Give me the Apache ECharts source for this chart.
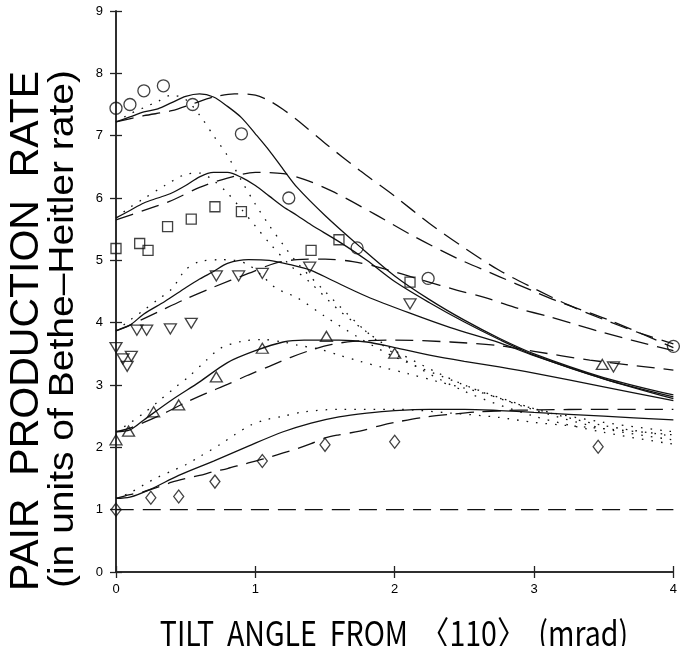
<!DOCTYPE html>
<html>
<head>
<meta charset="utf-8">
<script src="https://cdn.jsdelivr.net/npm/echarts@6/dist/echarts.min.js"></script>
<style>
  html, body { margin: 0; padding: 0; background: #fff; }
  #chart { width: 680px; height: 646px; }
</style>
</head>
<body>
<div id="chart"></div>
<script>
// axis ticks
var xTicks = [0, 1, 2, 3, 4];
var yTicks = [0, 1, 2, 3, 4, 5, 6, 7, 8, 9];

// measured points (x in mrad, y in Bethe-Heitler units)
var circlePts = [[0, 7.44], [0.1, 7.5], [0.2, 7.72], [0.34, 7.8], [0.55, 7.5], [0.9, 7.03], [1.24, 6.0], [1.73, 5.2], [2.24, 4.71], [4.0, 3.62]];
var squarePts = [[0, 5.19], [0.17, 5.27], [0.23, 5.16], [0.37, 5.54], [0.54, 5.66], [0.71, 5.86], [0.9, 5.78], [1.4, 5.16], [1.6, 5.33], [2.11, 4.65]];
var downPts = [[0, 3.6], [0.05, 3.42], [0.11, 3.46], [0.08, 3.3], [0.15, 3.88], [0.22, 3.88], [0.39, 3.9], [0.54, 3.99], [0.72, 4.75], [0.88, 4.75], [1.05, 4.79], [1.39, 4.89], [2.11, 4.3], [3.57, 3.29]];
var upPts = [[0, 2.12], [0.09, 2.26], [0.27, 2.57], [0.45, 2.68], [0.72, 3.13], [1.05, 3.59], [1.51, 3.78], [2.0, 3.51], [3.49, 3.33]];
var diamondPts = [[0, 1.0], [0.25, 1.19], [0.45, 1.21], [0.71, 1.45], [1.05, 1.78], [1.5, 2.04], [2.0, 2.09], [3.46, 2.01]];

// calculations: solid, dashed, dotted for each orientation group
var circleSolid = [[0, 7.22], [0.1, 7.3], [0.2, 7.38], [0.3, 7.43], [0.4, 7.53], [0.5, 7.63], [0.6, 7.67], [0.7, 7.62], [0.8, 7.47], [0.9, 7.29], [1.0, 7.03], [1.1, 6.76], [1.2, 6.46], [1.3, 6.17], [1.5, 5.72], [1.75, 5.22], [2.0, 4.75], [2.25, 4.37], [2.5, 4.04], [2.75, 3.75], [3.0, 3.5], [3.5, 3.12], [4.0, 2.84]];
var circleDashed = [[0, 7.22], [0.2, 7.32], [0.4, 7.4], [0.55, 7.51], [0.7, 7.62], [0.85, 7.67], [1.0, 7.65], [1.1, 7.56], [1.2, 7.42], [1.3, 7.25], [1.5, 6.88], [1.75, 6.44], [2.0, 6.03], [2.25, 5.59], [2.5, 5.2], [2.75, 4.84], [3.0, 4.55], [3.25, 4.28], [3.5, 4.05], [3.75, 3.84], [4.0, 3.66]];
var circleDotted = [[0, 7.22], [0.1, 7.35], [0.2, 7.45], [0.3, 7.55], [0.4, 7.65], [0.5, 7.58], [0.6, 7.33], [0.7, 7.0], [0.8, 6.68], [0.9, 6.28], [1.0, 5.9], [1.1, 5.56], [1.2, 5.25], [1.3, 4.96], [1.5, 4.5], [1.75, 3.95], [2.0, 3.5], [2.5, 2.9], [3.0, 2.5], [3.5, 2.24], [4.0, 2.05]];

var squareSolid = [[0, 5.68], [0.1, 5.8], [0.2, 5.92], [0.3, 6.0], [0.4, 6.08], [0.5, 6.2], [0.6, 6.34], [0.7, 6.41], [0.8, 6.41], [0.9, 6.33], [1.0, 6.2], [1.1, 6.03], [1.2, 5.86], [1.3, 5.72], [1.4, 5.57], [1.6, 5.3], [1.8, 5.0], [2.0, 4.66], [2.25, 4.32], [2.5, 4.01], [2.75, 3.73], [3.0, 3.48], [3.5, 3.1], [4.0, 2.81]];
var squareDashed = [[0, 5.65], [0.2, 5.8], [0.4, 5.96], [0.6, 6.17], [0.8, 6.32], [1.0, 6.41], [1.2, 6.39], [1.35, 6.3], [1.55, 6.11], [1.85, 5.75], [2.15, 5.37], [2.45, 5.03], [2.75, 4.74], [3.0, 4.5], [3.15, 4.36], [3.55, 4.03], [4.0, 3.6]];
var squareDotted = [[0, 5.68], [0.1, 5.85], [0.2, 5.99], [0.35, 6.2], [0.5, 6.38], [0.6, 6.4], [0.7, 6.28], [0.8, 6.08], [0.9, 5.82], [1.0, 5.55], [1.1, 5.28], [1.25, 4.92], [1.4, 4.63], [1.6, 4.2], [1.8, 3.85], [2.0, 3.55], [2.5, 3.0], [3.0, 2.6], [3.5, 2.3], [4.0, 2.12]];

var downSolid = [[0, 3.87], [0.1, 3.96], [0.2, 4.14], [0.35, 4.34], [0.5, 4.56], [0.6, 4.7], [0.7, 4.82], [0.8, 4.95], [0.95, 5.01], [1.1, 5.0], [1.25, 4.93], [1.4, 4.84], [1.55, 4.68], [1.8, 4.42], [2.1, 4.16], [2.4, 3.92], [2.75, 3.68], [3.0, 3.47], [3.5, 3.1], [4.0, 2.78]];
var downDashed = [[0, 3.87], [0.1, 3.96], [0.3, 4.17], [0.5, 4.38], [0.7, 4.57], [0.95, 4.79], [1.15, 4.96], [1.3, 5.01], [1.5, 5.02], [1.7, 4.98], [1.9, 4.88], [2.2, 4.68], [2.45, 4.52], [2.65, 4.4], [2.9, 4.22], [3.1, 4.1], [3.3, 3.97], [3.5, 3.84], [3.7, 3.72], [4.0, 3.55]];
var downDotted = [[0, 3.87], [0.1, 4.04], [0.2, 4.2], [0.3, 4.37], [0.4, 4.54], [0.5, 4.85], [0.6, 4.98], [0.75, 5.01], [0.85, 5.0], [0.95, 4.93], [1.05, 4.75], [1.15, 4.55], [1.3, 4.4], [1.5, 4.1], [1.75, 3.75], [2.0, 3.45], [2.5, 3.0], [3.0, 2.62], [3.5, 2.35], [4.0, 2.18]];

var upSolid = [[0, 2.25], [0.1, 2.28], [0.2, 2.44], [0.4, 2.76], [0.6, 3.05], [0.8, 3.36], [1.0, 3.55], [1.2, 3.69], [1.35, 3.72], [1.6, 3.72], [1.8, 3.69], [2.0, 3.6], [2.25, 3.48], [2.5, 3.38], [2.75, 3.29], [3.0, 3.19], [3.5, 2.97], [4.0, 2.75]];
var upDashed = [[0, 2.25], [0.1, 2.31], [0.2, 2.4], [0.35, 2.55], [0.5, 2.72], [0.65, 2.87], [0.8, 3.01], [0.95, 3.16], [1.1, 3.3], [1.25, 3.44], [1.4, 3.56], [1.55, 3.65], [1.7, 3.7], [2.0, 3.72], [2.4, 3.69], [2.75, 3.63], [3.0, 3.54], [3.4, 3.4], [4.0, 3.24]];
var upDotted = [[0, 2.25], [0.1, 2.39], [0.2, 2.55], [0.3, 2.73], [0.43, 2.97], [0.52, 3.13], [0.65, 3.4], [0.75, 3.59], [0.9, 3.7], [1.05, 3.73], [1.2, 3.69], [1.3, 3.64], [1.45, 3.58], [1.6, 3.48], [1.75, 3.38], [1.9, 3.29], [2.1, 3.18], [2.3, 3.06], [2.5, 2.95], [2.65, 2.86], [3.0, 2.62], [3.5, 2.4], [4.0, 2.25]];

var diamondSolid = [[0, 1.18], [0.1, 1.2], [0.25, 1.33], [0.45, 1.55], [0.7, 1.78], [0.95, 2.02], [1.2, 2.25], [1.4, 2.39], [1.6, 2.49], [1.8, 2.55], [2.0, 2.59], [2.25, 2.61], [2.5, 2.61], [2.75, 2.59], [3.0, 2.56], [3.5, 2.5], [4.0, 2.44]];
var diamondDashed = [[0, 1.18], [0.1, 1.24], [0.2, 1.29], [0.3, 1.36], [0.4, 1.44], [0.5, 1.5], [0.6, 1.55], [0.7, 1.61], [0.8, 1.66], [0.9, 1.72], [1.0, 1.78], [1.1, 1.84], [1.2, 1.91], [1.3, 1.98], [1.4, 2.06], [1.5, 2.15], [1.6, 2.2], [1.75, 2.26], [1.9, 2.35], [2.0, 2.4], [2.2, 2.48], [2.4, 2.53], [2.6, 2.57], [2.8, 2.59], [3.0, 2.6], [3.5, 2.61], [4.0, 2.61]];
var diamondDotted = [[0, 1.18], [0.1, 1.27], [0.2, 1.4], [0.3, 1.52], [0.4, 1.62], [0.5, 1.72], [0.6, 1.85], [0.75, 2.05], [0.85, 2.2], [0.97, 2.36], [1.07, 2.44], [1.2, 2.5], [1.35, 2.57], [1.6, 2.61], [2.0, 2.61], [2.4, 2.55], [2.75, 2.48], [3.0, 2.4], [3.5, 2.3], [4.0, 2.2]];

var bhLevel = [[0, 1], [4, 1]];

var ink = '#111';

function lineSeries(data, kind) {
    var type = 'solid';
    if (kind === 'dashed') { type = [18, 9]; }
    if (kind === 'dotted') { type = [1.6, 8]; }
    return {
        type: 'line',
        data: data,
        smooth: 0.3,
        showSymbol: false,
        silent: true,
        lineStyle: { color: ink, width: 1.3, type: type },
        z: 2
    };
}

function markSeries(data, symbol, size, rot) {
    return {
        type: 'scatter',
        data: data,
        symbol: symbol,
        symbolSize: size,
        symbolRotate: rot || 0,
        itemStyle: { color: 'rgba(0,0,0,0)', borderColor: ink, borderWidth: 1.3 },
        silent: true,
        z: 3
    };
}

var series = [
    lineSeries(circleSolid, 'solid'), lineSeries(circleDashed, 'dashed'), lineSeries(circleDotted, 'dotted'),
    lineSeries(squareSolid, 'solid'), lineSeries(squareDashed, 'dashed'), lineSeries(squareDotted, 'dotted'),
    lineSeries(downSolid, 'solid'), lineSeries(downDashed, 'dashed'), lineSeries(downDotted, 'dotted'),
    lineSeries(upSolid, 'solid'), lineSeries(upDashed, 'dashed'), lineSeries(upDotted, 'dotted'),
    lineSeries(diamondSolid, 'solid'), lineSeries(diamondDashed, 'dashed'), lineSeries(diamondDotted, 'dotted'),
    lineSeries(bhLevel, 'dashed'),
    markSeries(circlePts, 'circle', 12),
    markSeries(squarePts, 'rect', 10),
    markSeries(downPts, 'triangle', [12, 10], 180),
    markSeries(upPts, 'triangle', [12, 10]),
    markSeries(diamondPts, 'diamond', [10, 13])
];

var axisLine = { show: true, lineStyle: { color: '#222', width: 1.5 } };
var tickStyle = { show: true, inside: true, length: 6, lineStyle: { color: '#222', width: 1.3 } };
var labelFont = { color: '#000', fontSize: 13, fontFamily: 'Liberation Sans, Arial, sans-serif' };

var chart = echarts.init(document.getElementById('chart'), null, { renderer: 'canvas' });
chart.setOption({
    animation: false,
    backgroundColor: '#fff',
    grid: { left: 116, right: 1, top: 11, bottom: 74 },
    xAxis: [
        {
            type: 'value', min: 0, max: 4, interval: 1, position: 'bottom',
            axisLine: axisLine, axisTick: tickStyle, splitLine: { show: false },
            axisLabel: Object.assign({ margin: 11, customValues: xTicks }, labelFont)
        },
        {
            type: 'value', min: 0, max: 4, interval: 1, position: 'top',
            axisLine: axisLine, axisTick: tickStyle, splitLine: { show: false },
            axisLabel: { show: false }
        }
    ],
    yAxis: [
        {
            type: 'value', min: 0, max: 9, interval: 1, position: 'left',
            axisLine: axisLine, axisTick: tickStyle, splitLine: { show: false },
            axisLabel: Object.assign({ margin: 13, customValues: yTicks }, labelFont)
        },
        {
            type: 'value', min: 0, max: 9, interval: 1, position: 'right',
            axisLine: axisLine, axisTick: tickStyle, splitLine: { show: false },
            axisLabel: { show: false }
        }
    ],
    graphic: [
        {
            type: 'text', x: 394, y: 633, scaleX: 0.84,
            style: {
                text: 'TILT  ANGLE  FROM  〈110〉  (mrad)',
                font: '34px "Noto Sans CJK JP", sans-serif',
                fill: '#000', textAlign: 'center', textVerticalAlign: 'middle'
            }
        },
        {
            type: 'text', x: 27, y: 331, rotation: Math.PI / 2,
            style: {
                text: 'PAIR  PRODUCTION  RATE',
                font: '41px "Liberation Sans", Arial, sans-serif',
                fill: '#000', textAlign: 'center', textVerticalAlign: 'middle'
            }
        },
        {
            type: 'text', x: 63, y: 329, rotation: Math.PI / 2, scaleY: 0.92,
            style: {
                text: '(in units of Bethe\u2013Heitler rate)',
                font: '39px "Liberation Sans", Arial, sans-serif',
                fill: '#000', textAlign: 'center', textVerticalAlign: 'middle'
            }
        }
    ],
    series: series
});
</script>
</body>
</html>
